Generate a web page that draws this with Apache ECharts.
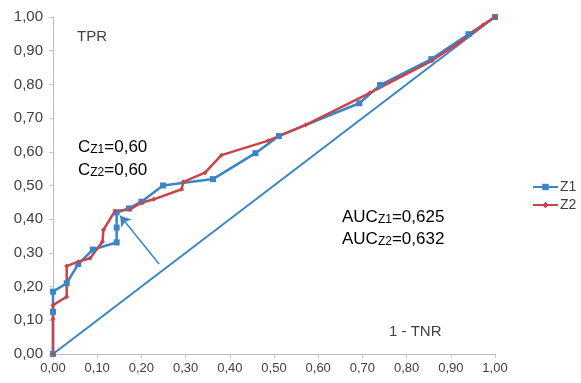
<!DOCTYPE html>
<html>

<head>
	<meta charset="UTF-8">
	<title></title>
	<style>
		html, body { margin: 0; padding: 0; background: #fff; }
		#chart { width: 581px; height: 383px; }
	</style>
	<script src="https://cdn.jsdelivr.net/npm/echarts@6/dist/echarts.min.js"></script>
</head>

<body>
	<div id="chart"></div>
	<script>
		// ROC points, [1 - TNR, TPR]
		var z1 = [
			[0, 0], [0, 0.125], [0, 0.185], [0.031, 0.21], [0.057, 0.267], [0.09, 0.31],
			[0.144, 0.331], [0.144, 0.375], [0.144, 0.42], [0.172, 0.432], [0.2, 0.452],
			[0.249, 0.5], [0.362, 0.519], [0.458, 0.596], [0.511, 0.647], [0.693, 0.744],
			[0.74, 0.798], [0.856, 0.875], [0.94, 0.949], [1, 1]
		];
		var z2 = [
			[0, 0], [0, 0.103], [0, 0.145], [0.031, 0.17], [0.031, 0.261], [0.057, 0.274],
			[0.084, 0.284], [0.112, 0.333], [0.114, 0.368], [0.14, 0.424], [0.174, 0.429],
			[0.2, 0.449], [0.228, 0.459], [0.291, 0.489], [0.295, 0.511], [0.344, 0.538],
			[0.381, 0.59], [0.487, 0.633], [0.572, 0.68], [0.717, 0.775], [0.857, 0.87],
			[0.917, 0.922], [0.973, 0.976], [1, 1]
		];
		var diagonal = [[0, 0], [1, 1]];
		// arrow pointing at the cut-off point
		var arrowFrom = [0.24, 0.267];
		var arrowTo = [0.152, 0.41];

		var blue = '#3a85c6';
		var red = '#c8454a';
		var txt = '#404040';
		var fmt = function (v) { return v.toFixed(2).replace('.', ','); };

		var sub = { fontSize: 12, fontFamily: 'Liberation Sans', color: txt, padding: [5, 0, 0, 0] };
		var big = { fontSize: 17, fontFamily: 'Liberation Sans', color: txt };

		var chart = echarts.init(document.getElementById('chart'));
		chart.setOption({
			animation: false,
			grid: { left: 53, right: 86, top: 17, bottom: 29 },
			legend: {
				data: ['Z1', 'Z2'],
				orient: 'vertical',
				left: 532, top: 180, padding: 0,
				itemWidth: 25, itemHeight: 8, itemGap: 4,
				textStyle: { fontSize: 14, fontFamily: 'Liberation Sans', color: txt, padding: [0, 0, 0, -3] }
			},
			xAxis: [{
				type: 'value', min: 0, max: 1, interval: 0.1,
				axisLine: { lineStyle: { color: '#c8c8c8' } },
				axisTick: { show: true, length: 4, lineStyle: { color: '#c8c8c8' } },
				axisLabel: { formatter: fmt, fontSize: 13, fontFamily: 'Liberation Sans', color: txt, margin: 8 },
				splitLine: { show: false }
			}, {
				type: 'value', min: 0, max: 1, position: 'top',
				axisLine: { show: true, lineStyle: { color: '#bbbbbb' } },
				axisTick: { show: false }, axisLabel: { show: false }, splitLine: { show: false }
			}],
			yAxis: [{
				type: 'value', min: 0, max: 1, interval: 0.1,
				axisLine: { show: true, lineStyle: { color: '#c8c8c8' } },
				axisTick: { show: true, length: 4, lineStyle: { color: '#c8c8c8' } },
				axisLabel: { formatter: fmt, fontSize: 15, fontFamily: 'Liberation Sans', color: txt, margin: 10 },
				splitLine: { show: false }
			}, {
				type: 'value', min: 0, max: 1, position: 'right',
				axisLine: { show: true, lineStyle: { color: '#b8b8b8', type: 'dashed' } },
				axisTick: { show: false }, axisLabel: { show: false }, splitLine: { show: false }
			}],
			series: [{
				name: 'diag', type: 'line', data: diagonal, showSymbol: false,
				lineStyle: { color: blue, width: 2 }, itemStyle: { color: blue },
				markLine: {
					silent: true,
					symbol: ['none', 'arrow'], symbolSize: 10,
					label: { show: false },
					lineStyle: { color: blue, width: 1.5, type: 'solid' },
					data: [[{ coord: arrowFrom }, { coord: arrowTo }]]
				}
			}, {
				name: 'Z1', type: 'line', data: z1,
				symbol: 'rect', symbolSize: 6,
				lineStyle: { color: blue, width: 2.5 }, itemStyle: { color: blue }
			}, {
				name: 'Z2', type: 'line', data: z2,
				symbol: 'diamond', symbolSize: 5,
				lineStyle: { color: red, width: 2.5 }, itemStyle: { color: red }
			}],
			graphic: [
				{ type: 'text', left: 77, top: 29, style: { text: 'TPR', font: '15px "Liberation Sans"', fill: txt } },
				{ type: 'text', left: 78, top: 136, style: { text: '{b|C}{s|Z1}{b|=0,60}\n{b|C}{s|Z2}{b|=0,60}', rich: { b: big, s: sub }, lineHeight: 23 } },
				{ type: 'text', left: 342, top: 206, style: { text: '{b|AUC}{s|Z1}{b|=0,625}\n{b|AUC}{s|Z2}{b|=0,632}', rich: { b: big, s: sub }, lineHeight: 22 } },
				{ type: 'text', left: 389, top: 324, style: { text: '1 - TNR', font: '15px "Liberation Sans"', fill: txt } }
			]
		});
	</script>
</body>

</html>
